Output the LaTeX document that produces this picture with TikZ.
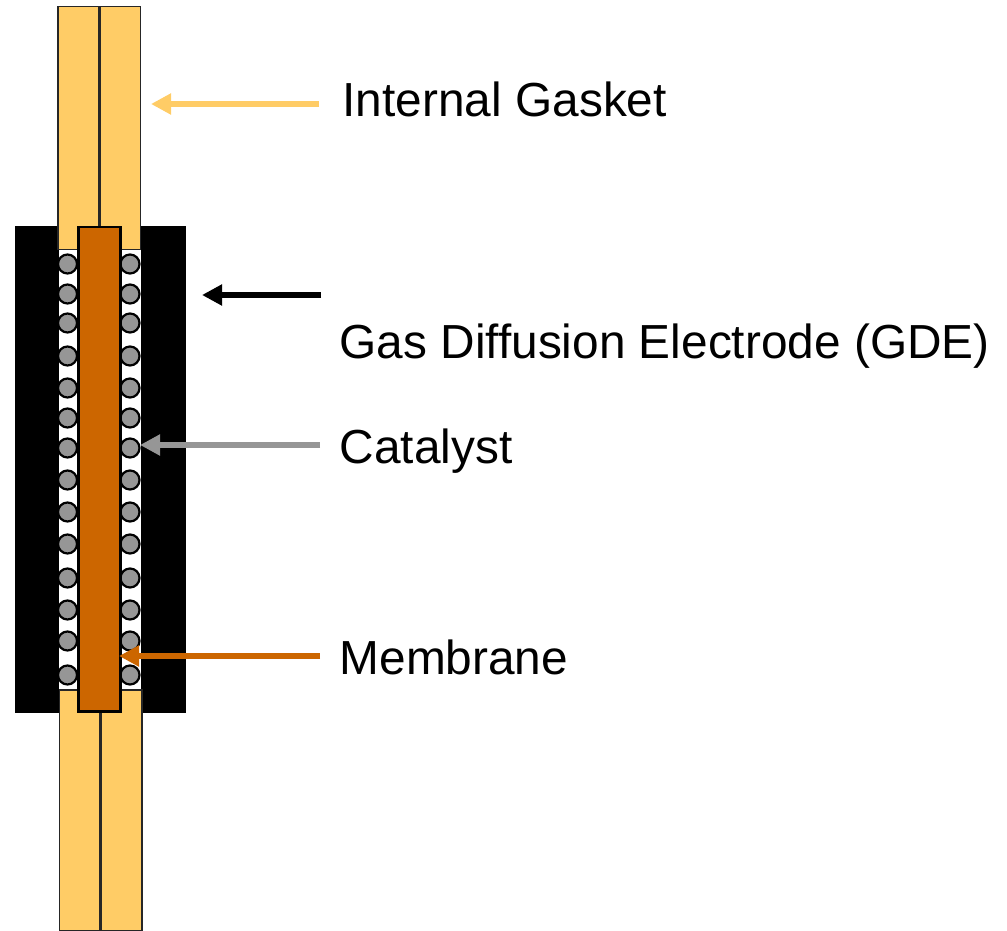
\documentclass[tikz,border=0pt]{standalone}
\usepackage{fontspec}
\setmainfont{Liberation Sans}
\usetikzlibrary{arrows.meta}
\definecolor{gasket}{RGB}{255,204,102}
\definecolor{memb}{RGB}{204,102,0}
\definecolor{cat}{RGB}{150,150,150}
\tikzset{
  blk/.style={anchor=north west,inner sep=0pt,outer sep=0pt,minimum width=#1},
  gasketbox/.style={anchor=north west,draw=black!85,line width=1.8pt,fill=gasket,inner sep=0pt,outer sep=0pt,minimum width=40.5pt},
  ball/.style={circle,draw=black,line width=2.2pt,fill=cat,minimum size=19pt,inner sep=0pt,outer sep=0pt},
  lab/.style={anchor=base west,font=\fontsize{47.8}{50}\selectfont,inner sep=0pt,text=black},
  pointer/.style={line width=6.5pt,color=#1,-{Triangle[length=20pt,width=20pt]}},
}
\begin{document}
\begin{tikzpicture}[x=1pt,y=-1pt]
\useasboundingbox (0,0) rectangle (1007,931);
% black electrodes
\node[blk=171pt,fill=black,minimum height=487pt] (gde) at (15,226) {};
\node[blk=82pt,fill=white,minimum height=441pt] (gap) at (59,249) {};
% gaskets
\node[gasketbox,minimum height=243pt] (gtl) at (58,6.5) {};
\node[gasketbox,minimum height=243pt] (gtr) at (100,6.5) {};
\node[gasketbox,minimum height=241pt] (gbl) at (59.5,690) {};
\node[gasketbox,minimum height=241pt] (gbr) at (101.2,690) {};
% catalyst balls
\foreach \y [count=\i] in {264,294,323,356,388,418,448,480,512,544,578,610,641,675}{
  \node[ball] (cl\i) at (67.5,\y) {};
  \node[ball] (cr\i) at (130,\y) {};
}
% membrane
\node[anchor=north west,draw=black,line width=2.4pt,fill=memb,inner sep=0pt,outer sep=0pt,minimum width=42pt,minimum height=484.5pt] (mem) at (78.5,227) {};
% labels
\node[lab] (tg) at (342.5,117) {Internal Gasket};
\node[lab] (td) at (339.5,358) {Gas Diffusion Electrode (GDE)};
\node[lab] (tc) at (339.5,463) {Catalyst};
\node[lab] (tm) at (339.5,674) {Membrane};
% arrows
\coordinate (ag) at (319,104); \coordinate (agt) at (151,104);
\coordinate (ad) at (321,295); \coordinate (adt) at (202,295);
\coordinate (ac) at (320,445); \coordinate (act) at (140,445);
\coordinate (am) at (320,656); \coordinate (amt) at (119,656);
\draw[pointer=gasket] (ag) -- (agt);
\draw[pointer=black] (ad) -- (adt);
\draw[pointer=cat] (ac) -- (act);
\draw[pointer=memb] (am) -- (amt);
\end{tikzpicture}
\end{document}
